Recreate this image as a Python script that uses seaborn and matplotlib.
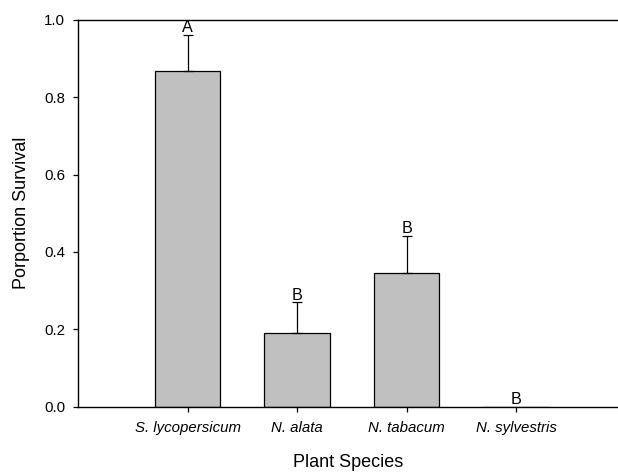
import matplotlib
matplotlib.use("Agg")
import matplotlib.pyplot as plt
import seaborn as sns
import pandas as pd

# Survival data per host plant species
species = ["S. lycopersicum", "N. alata", "N. tabacum", "N. sylvestris"]
survival = [0.867, 0.192, 0.345, 0.0]
upper_err = [0.094, 0.078, 0.097, 0.0]
groups = ["A", "B", "B", "B"]

sns.set_style("ticks")
plt.rcParams["font.family"] = ["Liberation Sans", "DejaVu Sans"]
plt.rcParams["text.color"] = "black"
plt.rcParams["axes.labelcolor"] = "black"
plt.rcParams["xtick.color"] = "black"
plt.rcParams["ytick.color"] = "black"

df = pd.DataFrame({"species": species, "survival": survival})

fig = plt.figure(figsize=(6.18, 4.75), dpi=100)
ax = fig.add_axes([0.1262, 0.1432, 0.8738, 0.8157])

sns.barplot(data=df, x="species", y="survival", order=species,
            color="#c0c0c0", saturation=1, width=0.6,
            edgecolor="black", linewidth=0.9, errorbar=None, ax=ax)

# upper-only error bars
for i, (m, e) in enumerate(zip(survival, upper_err)):
    if e > 0:
        ax.errorbar(i, m, yerr=[[0], [e]], fmt="none", ecolor="black",
                    elinewidth=0.9, capsize=3.9, capthick=0.9, zorder=3)

# significance letters
for i, (m, e, g) in enumerate(zip(survival, upper_err, groups)):
    ax.annotate(g, xy=(i, m + e), xytext=(0, 2.0), textcoords="offset points",
                ha="center", va="baseline", fontsize=11.6, color="black")

ax.set_xlim(-1.0, 3.93)
ax.set_ylim(0, 1.0)
ax.set_yticks([0.0, 0.2, 0.4, 0.6, 0.8, 1.0])
ax.set_yticklabels([f"{v:.1f}" for v in [0.0, 0.2, 0.4, 0.6, 0.8, 1.0]])

for s in ["left", "bottom", "top"]:
    ax.spines[s].set_visible(True)
    ax.spines[s].set_color("black")
    ax.spines[s].set_linewidth(1.0)
ax.spines["right"].set_visible(False)

ax.tick_params(axis="both", direction="out", length=3.8, width=0.9,
               colors="black", labelcolor="black", labelsize=10.8)
ax.tick_params(axis="y", pad=5.3)
ax.tick_params(axis="x", pad=6.3)
ax.tick_params(top=False, right=False)
for lbl in ax.get_xticklabels():
    lbl.set_fontstyle("italic")

ax.set_xlabel("Plant Species", fontsize=13, labelpad=14, color="black")
ax.set_ylabel("Porportion Survival", fontsize=13, labelpad=10, color="black")

fig.savefig("out.png", dpi=100)
